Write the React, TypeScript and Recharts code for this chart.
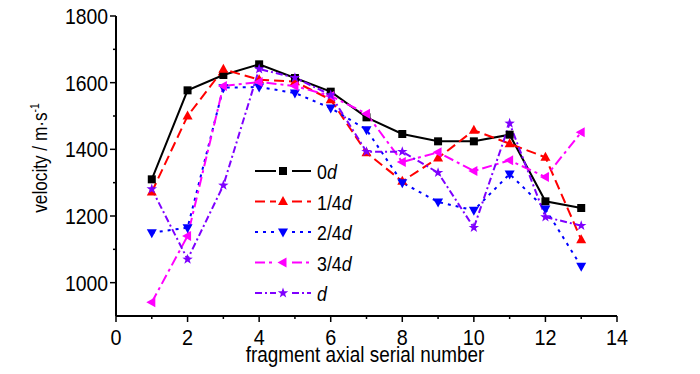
import React from 'react';
import { LineChart, Line, XAxis, YAxis, Legend } from 'recharts';

// fragment axial serial number
const serial = [1, 2, 3, 4, 5, 6, 7, 8, 9, 10, 11, 12, 13];

// velocity (m/s) per measuring position
const v0d = [1310, 1577, 1623, 1655, 1614, 1573, 1496, 1446, 1424, 1424, 1444, 1244, 1224];
const v1of4d = [1272, 1500, 1640, 1609, 1603, 1549, 1390, 1304, 1374, 1457, 1417, 1376, 1129];
const v2of4d = [1150, 1165, 1585, 1587, 1569, 1524, 1459, 1300, 1242, 1217, 1326, 1221, 1049];
const v3of4d = [941, 1140, 1590, 1602, 1590, 1560, 1507, 1362, 1391, 1335, 1367, 1317, 1451];
const vd = [1281, 1070, 1292, 1641, 1615, 1563, 1393, 1393, 1330, 1165, 1478, 1197, 1171];

const xTicks = [0, 1, 2, 3, 4, 5, 6, 7, 8, 9, 10, 11, 12, 13, 14];
const yTicks = [900, 1000, 1100, 1200, 1300, 1400, 1500, 1600, 1700, 1800];

const series = [
  { key: 'd0', label: '0', values: v0d, color: '#000000', dash: undefined, shape: 'square' },
  { key: 'd1', label: '1/4', values: v1of4d, color: '#ff0000', dash: '10 5', shape: 'up' },
  { key: 'd2', label: '2/4', values: v2of4d, color: '#0000ff', dash: '3 5', shape: 'down' },
  { key: 'd3', label: '3/4', values: v3of4d, color: '#ff00ff', dash: '10 4 3 4', shape: 'left' },
  { key: 'd4', label: '', values: vd, color: '#7f00ff', dash: '7 3 2 3', shape: 'star' },
];

const data = serial.map((n, i) => {
  const row: any = { n };
  series.forEach((s) => (row[s.key] = s.values[i]));
  return row;
});

const FONT = '"Liberation Sans", Arial, sans-serif';

const Marker = ({ cx, cy, shape, color }: any) => {
  if (cx == null || cy == null) return null;
  if (shape === 'square') return <rect x={cx - 4} y={cy - 4} width={8} height={8} fill={color} />;
  if (shape === 'up') return <polygon points={`${cx},${cy - 5.5} ${cx + 5},${cy + 3.5} ${cx - 5},${cy + 3.5}`} fill={color} />;
  if (shape === 'down') return <polygon points={`${cx},${cy + 5.5} ${cx + 5},${cy - 3.5} ${cx - 5},${cy - 3.5}`} fill={color} />;
  if (shape === 'left') return <polygon points={`${cx - 5.5},${cy} ${cx + 3.5},${cy - 5} ${cx + 3.5},${cy + 5}`} fill={color} />;
  const pts: string[] = [];
  for (let k = 0; k < 10; k++) {
    const r = k % 2 === 0 ? 5.5 : 2.2;
    const a = -Math.PI / 2 + (k * Math.PI) / 5;
    pts.push(`${cx + r * Math.cos(a)},${cy + r * Math.sin(a)}`);
  }
  return <polygon points={pts.join(' ')} fill={color} />;
};

// narrow-looking text: the original uses a condensed face
const NText = ({ x, y, sx = 0.88, rotate = 0, children, ...rest }: any) => (
  <text
    transform={`translate(${x},${y}) rotate(${rotate}) scale(${sx},1)`}
    fontFamily={FONT}
    fill="#000"
    {...rest}
  >
    {children}
  </text>
);

const XTick = ({ x, y, payload }: any) => {
  const major = payload.value % 2 === 0;
  return (
    <g>
      <line x1={x} x2={x} y1={y} y2={y + (major ? 6 : 3)} stroke="#000" strokeWidth={1.5} />
      {major && (
        <NText x={x} y={y + 29} sx={0.9} textAnchor="middle" fontSize={22}>
          {payload.value}
        </NText>
      )}
    </g>
  );
};

const YTick = ({ x, y, payload }: any) => {
  const major = payload.value % 200 === 0;
  if (payload.value === 900) return null;
  return (
    <g>
      <line x1={x} x2={x - (major ? 6 : 3)} y1={y} y2={y} stroke="#000" strokeWidth={1.5} />
      {major && (
        <NText x={x - 8} y={y + 8} sx={0.88} textAnchor="end" fontSize={22}>
          {payload.value}
        </NText>
      )}
    </g>
  );
};

const LegendBox = () => (
  <svg width={130} height={160}>
    {series.map((s, i) => {
      const y = 13 + i * 30.5;
      return (
        <g key={s.key}>
          <line x1={0} x2={21} y1={y} y2={y} stroke={s.color} strokeWidth={2} strokeDasharray={s.dash} />
          <line x1={37} x2={56} y1={y} y2={y} stroke={s.color} strokeWidth={2} strokeDasharray={s.dash} />
          <Marker cx={28} cy={y} shape={s.shape} color={s.color} />
          <NText x={62} y={y + 8} sx={0.85} fontSize={21}>
            {s.label}
            <tspan fontStyle="italic">d</tspan>
          </NText>
        </g>
      );
    })}
  </svg>
);

export default function App() {
  return (
    <div style={{ position: 'absolute', left: 0, top: 0, width: 700, height: 374, background: '#fff' }}>
      <LineChart width={700} height={374} data={data} margin={{ top: 16, right: 83, bottom: 0, left: 0 }}>
        <XAxis
          dataKey="n"
          type="number"
          domain={[0, 14]}
          ticks={xTicks}
          interval={0}
          height={58}
          tickSize={0}
          tickMargin={0}
          tick={<XTick />}
          axisLine={{ stroke: '#000', strokeWidth: 2 }}
          label={{
            content: () => (
              <NText x={365} y={362} sx={0.86} textAnchor="middle" fontSize={22}>
                fragment axial serial number
              </NText>
            ),
          }}
        />
        <YAxis
          type="number"
          domain={[900, 1800]}
          ticks={yTicks}
          interval={0}
          width={116}
          tickSize={0}
          tickMargin={0}
          tick={<YTick />}
          axisLine={{ stroke: '#000', strokeWidth: 2 }}
          label={{
            content: () => (
              <NText x={47} y={158} rotate={-90} sx={0.86} textAnchor="middle" fontSize={20}>
                velocity / m·s
                <tspan dy={-8} fontSize={12}>-1</tspan>
              </NText>
            ),
          }}
        />
        <Legend
          layout="horizontal"
          verticalAlign="middle"
          align="center"
          wrapperStyle={{ left: 255, top: 158, width: 130, height: 160 }}
          content={() => <LegendBox />}
        />
        {series.map((s) => (
          <Line
            key={s.key}
            dataKey={s.key}
            name={s.label + 'd'}
            stroke={s.color}
            strokeWidth={2}
            strokeDasharray={s.dash}
            isAnimationActive={false}
            dot={(p: any) => <Marker key={`${s.key}-${p.index}`} cx={p.cx} cy={p.cy} shape={s.shape} color={s.color} />}
            activeDot={false}
          />
        ))}
      </LineChart>
    </div>
  );
}
